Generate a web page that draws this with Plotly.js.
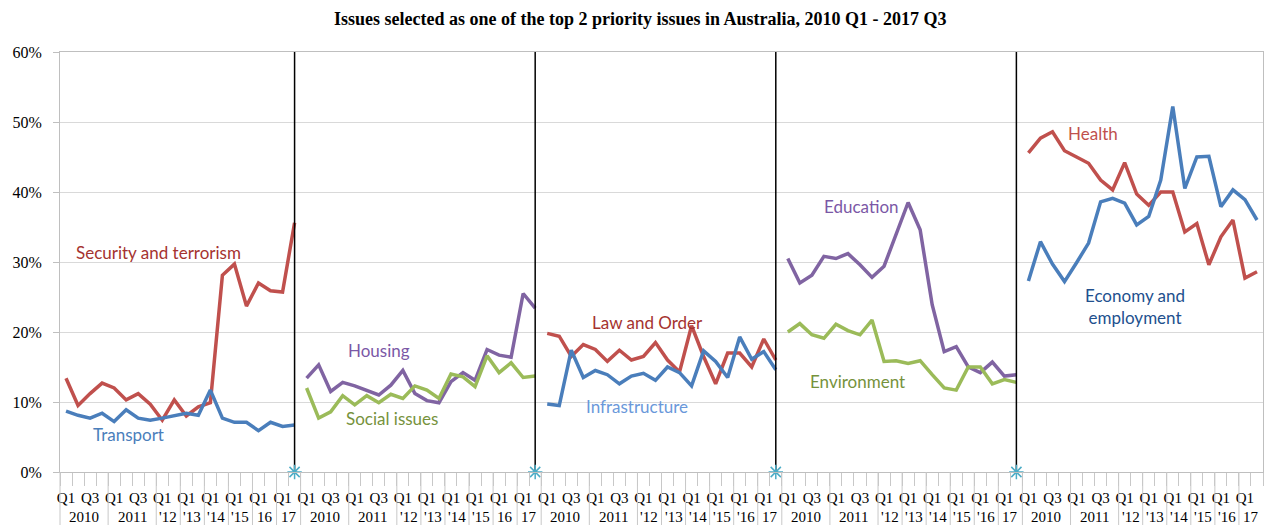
<!DOCTYPE html>
<html>
<head>
<meta charset="utf-8">
<script src="https://cdn.plot.ly/plotly-3.0.1.min.js"></script>
<style>html,body{margin:0;padding:0;background:#fff;}#chart{width:1268px;height:525px;}</style>
</head>
<body>
<div id="chart"></div>
<script>
// ---- data ----
const quarterLabels = ['Q1','Q2','Q3','Q4','Q1','Q2','Q3','Q4','Q1','Q3','Q1','Q3','Q1','Q3','Q1','Q3','Q1','Q3','Q1','Q3'];
const yearGroups = [4,4,2,2,2,2,2,2]; // number of periods per year group
const panelYears = [
  ['2010','2011',"'12","'13","'14","'15",'16','17'],
  ['2010','2011',"'12","'13","'14","'15",'16','17'],
  ['2010','2011',"'12","'13","'14","'15","'16",'17'],
  ['2010','2011',"'12","'13","'14","'15","'16",'17'],
  ['2010','2011',"'12","'13","'14","'15","'16",'17']
];

const securityTerrorism = [13.4,9.5,11.2,12.7,12.0,10.3,11.2,9.7,7.4,10.3,8.0,9.3,9.9,28.1,29.7,23.7,27.0,25.9,25.7,35.6];
const transport         = [8.7,8.1,7.7,8.4,7.2,8.9,7.7,7.4,7.7,8.0,8.4,8.1,11.7,7.7,7.1,7.1,5.9,7.1,6.5,6.7];
const housing           = [13.4,15.3,11.5,12.8,12.3,11.6,11.0,12.4,14.5,11.2,10.2,9.9,12.9,14.2,13.1,17.5,16.7,16.4,25.5,23.4];
const socialIssues      = [12.0,7.7,8.6,10.9,9.6,10.9,9.9,11.1,10.5,12.3,11.7,10.5,14.0,13.6,12.2,16.6,14.2,15.6,13.5,13.7];
const lawAndOrder       = [19.8,19.4,16.5,18.2,17.5,15.8,17.4,16.0,16.5,18.5,16.0,14.3,20.9,16.5,12.6,17.0,17.0,15.0,19.0,16.0];
const infrastructure    = [9.7,9.5,17.4,13.5,14.5,13.9,12.6,13.7,14.1,13.1,15.0,14.2,12.3,17.3,15.8,13.5,19.3,16.1,17.2,14.6];
const education         = [30.5,27.0,28.1,30.8,30.5,31.2,29.6,27.8,29.4,33.9,38.5,34.6,23.9,17.2,17.9,15.0,14.2,15.7,13.7,13.9];
const environment       = [20.0,21.2,19.6,19.1,21.1,20.2,19.6,21.7,15.8,15.9,15.5,15.9,13.9,12.0,11.7,15.0,15.0,12.6,13.2,12.8];
const health            = [45.6,47.7,48.6,45.9,45.0,44.1,41.7,40.3,44.2,39.7,38.1,40.0,40.0,34.3,35.5,29.6,33.6,36.0,27.7,28.6];
const economyEmployment = [27.3,32.9,29.7,27.2,29.9,32.7,38.6,39.1,38.4,35.3,36.5,41.7,52.2,40.5,45.0,45.1,37.9,40.3,38.9,36.0];

const panels = [
  [{name:'Security and terrorism', data:securityTerrorism, color:'#C0504D', text:'#A5332F', lx:7.7, ly:31.4},
   {name:'Transport', data:transport, color:'#4A7EBB', text:'#4A7EBB', lx:5.2, ly:5.4}],
  [{name:'Housing', data:housing, color:'#8064A2', text:'#7B58A6', lx:26.0, ly:17.4},
   {name:'Social issues', data:socialIssues, color:'#9BBB59', text:'#76923C', lx:27.1, ly:7.7}],
  [{name:'Law and Order', data:lawAndOrder, color:'#C0504D', text:'#A5332F', lx:48.3, ly:21.4},
   {name:'Infrastructure', data:infrastructure, color:'#4A7EBB', text:'#6A98DA', lx:47.5, ly:9.3}],
  [{name:'Education', data:education, color:'#8064A2', text:'#7B58A6', lx:66.1, ly:37.9},
   {name:'Environment', data:environment, color:'#9BBB59', text:'#76923C', lx:65.8, ly:13.0}],
  [{name:'Health', data:health, color:'#C0504D', text:'#C0504D', lx:85.4, ly:48.4},
   {name:'Economy and<br>employment', data:economyEmployment, color:'#4A7EBB', text:'#22508E', lx:88.9, ly:23.7}]
];

// ---- build ----
const N = quarterLabels.length;
const total = N * panels.length;
const traces = [];
const annotations = [];
const shapes = [];
const serif = 'Liberation Serif, Times New Roman, serif';
const labelFont = 'Lato, Open Sans, sans-serif';

panels.forEach((series, p) => {
  const xs = quarterLabels.map((_, i) => p * N + i);
  series.forEach(s => {
    traces.push({x: xs, y: s.data.map(v => v / 100), type: 'scatter', mode: 'lines',
      line: {color: s.color, width: 3.5}, hoverinfo: 'y', showlegend: false, name: s.name});
    annotations.push({x: s.lx, y: s.ly / 100, xref: 'x', yref: 'y', text: s.name, showarrow: false,
      font: {family: labelFont, size: 17, color: s.text}, align: 'center', xanchor: 'center', yanchor: 'middle'});
  });
  // year labels and group lines
  let start = 0;
  yearGroups.forEach((g, k) => {
    const c = p * N + start + (g - 1) / 2;
    annotations.push({x: (c + 0.5) / total, y: -0.108, xref: 'paper', yref: 'paper', text: panelYears[p][k],
      showarrow: false, font: {family: serif, size: 15, color: '#000'}, xanchor: 'center', yanchor: 'middle'});
    const b = (p * N + start) / total;
    shapes.push({type: 'line', xref: 'paper', yref: 'paper', x0: b, x1: b, y0: 0, y1: -0.13,
      line: {color: '#c8c8c8', width: 1}});
    start += g;
  });
  // separator after panel
  if (p < panels.length - 1) {
    const sx = p * N + N - 1;
    traces.push({x: [sx, sx], y: [0, 0.6], type: 'scatter', mode: 'lines',
      line: {color: '#000', width: 1.5}, hoverinfo: 'skip', showlegend: false});
    traces.push({x: [sx], y: [0], type: 'scatter', mode: 'markers', cliponaxis: false,
      marker: {symbol: 'asterisk-open', size: 12, color: '#4BACC6', line: {color: '#4BACC6', width: 1.5}},
      hoverinfo: 'skip', showlegend: false});
  }
});

const tickvals = [], ticktext = [];
for (let p = 0; p < panels.length; p++) {
  quarterLabels.forEach((q, i) => { if (i % 2 === 0) { tickvals.push(p * N + i); ticktext.push(q); } });
}

const layout = {
  width: 1268, height: 525,
  margin: {l: 60, r: 5, t: 52, b: 53},
  paper_bgcolor: '#fff', plot_bgcolor: '#fff',
  title: {text: 'Issues selected as one of the top 2 priority issues in Australia, 2010 Q1 - 2017 Q3',
    font: {family: serif, size: 18, color: '#000', weight: 'bold'}, x: 0.505, xanchor: 'center', y: 0.965, yanchor: 'middle'},
  xaxis: {range: [-0.5, total - 0.5], tickvals: tickvals, ticktext: ticktext, showgrid: false, zeroline: false,
    showline: true, linecolor: '#bfbfbf', linewidth: 1, mirror: true,
    ticks: 'outside', ticklen: 12, tickcolor: 'rgba(0,0,0,0)',
    minor: {tick0: -0.5, dtick: 1, ticks: 'outside', ticklen: 13, tickcolor: '#c8c8c8', showgrid: false},
    tickfont: {family: serif, size: 15, color: '#000'}, fixedrange: true},
  yaxis: {range: [0, 0.6], dtick: 0.1, tickformat: '.0%', showgrid: true, gridcolor: '#d9d9d9', zeroline: false,
    showline: true, linecolor: '#bfbfbf', mirror: true, ticks: 'outside', ticklen: 6, tickcolor: '#bfbfbf',
    ticklabelstandoff: 8,
    tickfont: {family: serif, size: 16, color: '#000'}, fixedrange: true},
  annotations: annotations,
  shapes: shapes,
  showlegend: false
};

Plotly.newPlot('chart', traces, layout, {displayModeBar: false, staticPlot: true});
</script>
</body>
</html>
